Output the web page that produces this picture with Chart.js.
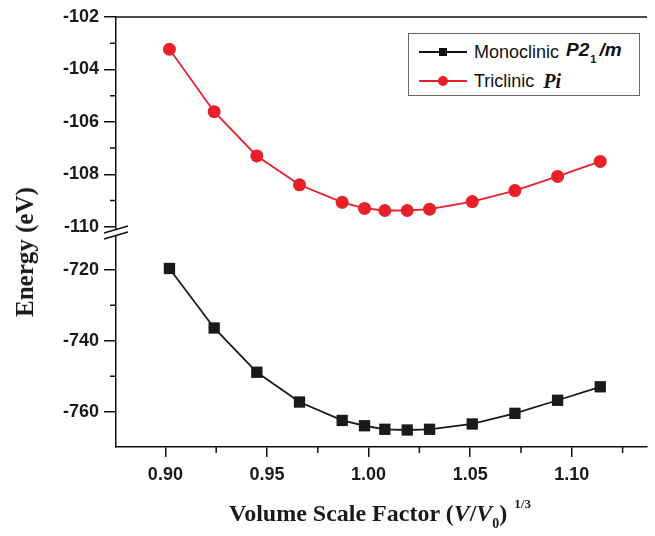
<!DOCTYPE html>
<html>
<head>
<meta charset="utf-8">
<script src="https://cdn.jsdelivr.net/npm/chart.js@4"></script>
<style>
  body { margin: 0; background: #fff; }
  #wrap { position: relative; width: 655px; height: 536px; }
  #chart { position: absolute; left: 0; top: 0; }
  .ytitle {
    position: absolute; left: 25px; top: 252px;
    transform: translate(-50%, -50%) rotate(-90deg);
    font: bold 25px "Liberation Serif", "Times New Roman", serif;
    white-space: nowrap; color: #1a1a1a;
  }
  .xtitle {
    position: absolute; left: 229px; top: 500px;
    font: bold 24px "Liberation Serif", "Times New Roman", serif;
    white-space: nowrap; color: #1a1a1a;
  }
  .xtitle sub { font-size: 14px; vertical-align: -7px; }
  .xtitle .pow { font-size: 13px; position: relative; top: -13px; margin-left: 7px; }
  .legend {
    position: absolute; left: 408px; top: 33px; width: 230px; height: 61px;
    border: 1px solid #666; background: #fff;
    font: 18px "Liberation Sans", Arial, sans-serif; color: #111;
  }
  .row { position: absolute; left: 10px; height: 24px; display: flex; align-items: center; white-space: nowrap; }
  .sample { position: relative; width: 48px; height: 20px; margin-right: 7px; }
  .sample .ln { position: absolute; left: 0; right: 0; top: 9px; height: 2px; }
  .sample .mk { position: absolute; left: 20px; top: 6px; width: 8px; height: 8px; }
  .sp { font-weight: bold; font-style: italic; font-size: 19px; margin-left: 7px; }
  .sp sub { font-size: 11px; font-style: normal; vertical-align: -7px; margin: 0 3px 0 1px; }
  .pi { font: bold italic 20px "Liberation Serif", "Times New Roman", serif; margin-left: 9px; }
</style>
</head>
<body>
<div id="wrap">
  <canvas id="chart" width="655" height="536"></canvas>
  <div class="ytitle">Energy (eV)</div>
  <div class="xtitle">Volume Scale Factor (<i>V</i>/<i>V</i><sub>0</sub>)<span class="pow">1/3</span></div>
  <div class="legend">
    <div class="row" style="top:6px">
      <div class="sample"><div class="ln" style="background:#111"></div><div class="mk" style="background:#111"></div></div>
      Monoclinic<span class="sp">P2<sub>1</sub>/m</span>
    </div>
    <div class="row" style="top:35px">
      <div class="sample"><div class="ln" style="background:#e8202a"></div><div class="mk" style="background:#e8202a;border-radius:50%;width:10px;height:10px;left:19px;top:5px"></div></div>
      Triclinic<span class="pi">Pi</span>
    </div>
  </div>
</div>
<script>
// positions (points sit a little right of the nominal grid)
const volumeScale = [0.902, 0.924, 0.945, 0.966, 0.987, 0.998, 1.008, 1.019, 1.030, 1.051, 1.072, 1.093, 1.114];
const monoclinicEnergy = [-719.6, -736.4, -748.9, -757.3, -762.5, -764.0, -765.0, -765.2, -765.0, -763.5, -760.5, -756.8, -753.0];
const triclinicEnergy = [-103.23, -105.61, -107.30, -108.40, -109.07, -109.30, -109.38, -109.38, -109.33, -109.04, -108.62, -108.08, -107.51];

const xTicks = [0.90, 0.95, 1.00, 1.05, 1.10];
const xMinor = [0.925, 0.975, 1.025, 1.075, 1.125];
const upperTicks = [-110, -108, -106, -104, -102];
const upperMinor = [-109, -107, -105, -103];
const lowerTicks = [-760, -740, -720];
const lowerMinor = [-750, -730];

const tickFont = { family: '"Liberation Sans", Arial, sans-serif', size: 18, weight: 'bold' };

function toPoints(xs, ys) {
  return xs.map((x, i) => ({ x: x, y: ys[i] }));
}

// minor ticks, top frame line and the axis break
const extras = {
  id: 'extras',
  afterDraw(chart) {
    const ctx = chart.ctx;
    const area = chart.chartArea;
    const sx = chart.scales.x, sy = chart.scales.y, sy2 = chart.scales.y2;
    ctx.save();
    ctx.strokeStyle = '#111';
    ctx.lineWidth = 1.5;
    ctx.beginPath();
    xMinor.forEach(v => {
      const px = sx.getPixelForValue(v);
      if (px <= area.right) { ctx.moveTo(px, sx.top); ctx.lineTo(px, sx.top + 6); }
    });
    upperMinor.forEach(v => {
      const py = sy2.getPixelForValue(v);
      ctx.moveTo(sy2.right, py); ctx.lineTo(sy2.right - 6, py);
    });
    lowerMinor.forEach(v => {
      const py = sy.getPixelForValue(v);
      ctx.moveTo(sy.right, py); ctx.lineTo(sy.right - 6, py);
    });
    // top frame
    ctx.moveTo(area.left, area.top);
    ctx.lineTo(area.right, area.top);
    ctx.stroke();

    // break marks
    const bx = sy2.right, by = sy2.bottom;
    ctx.fillStyle = '#fff';
    ctx.fillRect(bx - 3, by - 2, 6, 5);
    ctx.beginPath();
    ctx.moveTo(bx - 12, by + 1); ctx.lineTo(bx + 12, by - 6);
    ctx.moveTo(bx - 12, by + 7); ctx.lineTo(bx + 12, by);
    ctx.stroke();
    ctx.restore();
  }
};

new Chart(document.getElementById('chart'), {
  type: 'line',
  data: {
    datasets: [{
      label: 'Monoclinic P21/m',
      data: toPoints(volumeScale, monoclinicEnergy),
      yAxisID: 'y',
      borderColor: '#1a1a1a',
      backgroundColor: '#1a1a1a',
      borderWidth: 1.8,
      pointStyle: 'rect',
      pointRadius: 8,
      pointBorderWidth: 0,
      tension: 0
    }, {
      label: 'Triclinic Pi',
      data: toPoints(volumeScale, triclinicEnergy),
      yAxisID: 'y2',
      borderColor: '#e8202a',
      backgroundColor: '#e8202a',
      borderWidth: 1.8,
      pointStyle: 'circle',
      pointRadius: 6.5,
      pointBorderWidth: 0,
      tension: 0
    }]
  },
  options: {
    responsive: false,
    devicePixelRatio: 1,
    animation: false,
    layout: { padding: { top: 17, right: 5, left: 0, bottom: 0 } },
    plugins: { legend: { display: false }, tooltip: { enabled: false } },
    scales: {
      x: {
        type: 'linear',
        min: 0.8757,
        max: 1.137,
        afterBuildTicks: s => { s.ticks = xTicks.map(v => ({ value: v })); },
        afterFit: s => { s.height = 89; },
        ticks: { font: tickFont, color: '#1a1a1a', padding: 7, maxRotation: 0, callback: v => v.toFixed(2) },
        grid: { drawOnChartArea: false, tickLength: 10, color: '#111', lineWidth: 1.5 },
        border: { color: '#111', width: 1.5 }
      },
      y: {
        type: 'linear',
        position: 'left',
        stack: 'energy',
        stackWeight: 1,
        min: -770,
        max: -709.3,
        afterBuildTicks: s => { s.ticks = lowerTicks.map(v => ({ value: v })); },
        afterFit: s => { s.width = 116; },
        ticks: { font: tickFont, color: '#1a1a1a', padding: 5 },
        grid: { drawOnChartArea: false, tickLength: 12, color: '#111', lineWidth: 1.5 },
        border: { color: '#111', width: 1.5 }
      },
      y2: {
        type: 'linear',
        position: 'left',
        stack: 'energy',
        stackWeight: 1,
        min: -110.2,
        max: -102,
        afterBuildTicks: s => { s.ticks = upperTicks.map(v => ({ value: v })); },
        afterFit: s => { s.width = 116; },
        ticks: { font: tickFont, color: '#1a1a1a', padding: 5 },
        grid: { drawOnChartArea: false, tickLength: 12, color: '#111', lineWidth: 1.5 },
        border: { color: '#111', width: 1.5 }
      }
    }
  },
  plugins: [extras]
});
</script>
</body>
</html>
